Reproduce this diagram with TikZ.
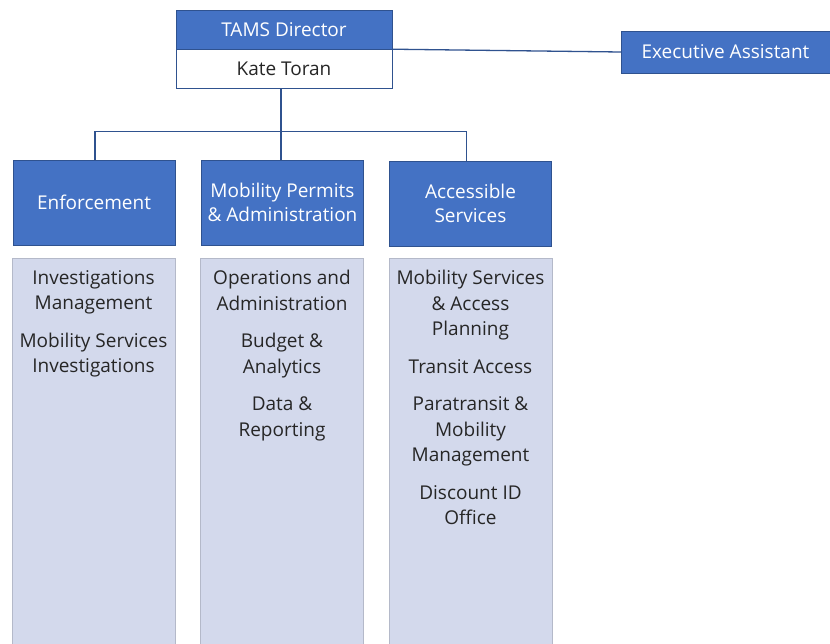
\documentclass[tikz,border=0pt]{standalone}
\usepackage{fontspec}
\setmainfont{Open Sans}
\usepackage{xcolor}
\usepackage{tikz}

\definecolor{headblue}{HTML}{4472C4}
\definecolor{edgeblue}{HTML}{2F528F}
\definecolor{listfill}{HTML}{D3D9EC}
\definecolor{listedge}{HTML}{B4B9C9}
\definecolor{listtext}{HTML}{262626}

\begin{document}
\begin{tikzpicture}[
    x=1pt, y=-1pt,
    head/.style={rectangle, draw=edgeblue, fill=headblue, text=white, minimum width=162pt, minimum height=85pt, align=center, inner sep=0pt, font=\fontsize{19}{24}\selectfont},
    namebox/.style={rectangle, draw=edgeblue, fill=white, text=listtext, minimum width=216pt, minimum height=39pt, inner sep=0pt, font=\fontsize{19}{24}\selectfont},
    listbox/.style={rectangle, draw=listedge, fill=listfill, minimum width=163pt, minimum height=390pt, inner sep=0pt},
    items/.style={align=center, text=listtext, inner sep=0pt, font=\fontsize{19}{25.5}\selectfont},
    link/.style={draw=edgeblue, line width=1.3pt}
]
    \useasboundingbox (0,0) rectangle (830,643);

    % Director and assistant
    \node[namebox, fill=headblue, text=white] (director) at (284,29.5) {TAMS Director};
    \node[namebox] (toran) at (284,68.5) {Kate Toran};
    \node[head, minimum width=209pt, minimum height=42pt] (exec) at (725.5,52) {Executive Assistant};

    % Divisions
    \node[head] (enf) at (94,202.5) {Enforcement};
    \node[head] (mob) at (282.5,202.5) {Mobility Permits\\\& Administration};
    \node[head] (acc) at (470.5,203.5) {Accessible\\Services};

    % Lists
    \node[listbox] (enfbox) at (93.5,453) {};
    \node[listbox] (mobbox) at (282,453) {};
    \node[listbox] (accbox) at (470.5,453) {};
    \node[items, anchor=north] (enflist) at (enfbox.north |- 0,270) {Investigations\\Management\\[12pt]Mobility Services\\Investigations};
    \node[items, anchor=north] (moblist) at (mobbox.north |- 0,270) {Operations and\\Administration\\[12pt]Budget \&\\Analytics\\[12pt]Data \&\\Reporting};
    \node[items, anchor=north] (acclist) at (accbox.north |- 0,270) {Mobility Services\\\& Access\\Planning\\[12pt]Transit Access\\[12pt]Paratransit \&\\Mobility\\Management\\[12pt]Discount ID\\Office};

    % Connectors
    \draw[link] (director.south east) -- (exec.west);
    \draw[link] ([xshift=-3pt]toran.south) -- ([xshift=-3pt]toran.south |- mob.north);
    \draw[link] ([xshift=1pt]enf.north) -- ++(0,-28) -| ([xshift=-4pt]acc.north);
\end{tikzpicture}
\end{document}
